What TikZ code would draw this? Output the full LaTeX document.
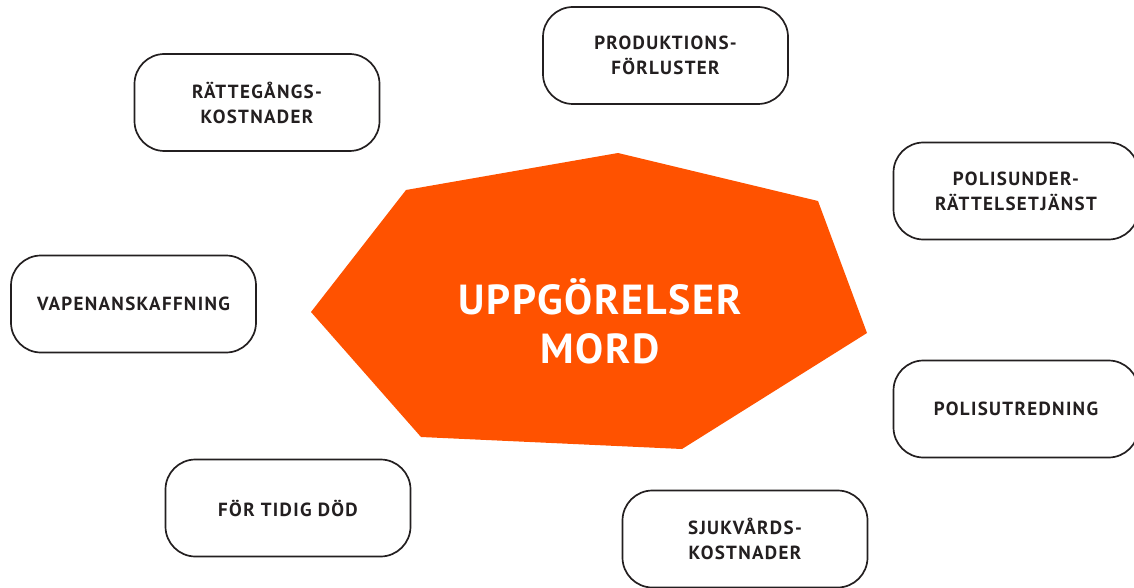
\documentclass[tikz,border=0pt]{standalone}
\usepackage{fontspec}
\setmainfont{PT Sans}
\newfontfamily\boxfont[LetterSpace=7]{PT Sans}
\newfontfamily\mordfont[LetterSpace=4]{PT Sans}
\definecolor{mordorange}{HTML}{FF5200}
\definecolor{boxtext}{HTML}{231F20}
\begin{document}
\begin{tikzpicture}[x=1pt, y=-1pt, line join=round, line cap=round,
		kostnad/.style={draw=boxtext, line width=1.7pt, rounded corners=30pt,
			minimum width=245pt, minimum height=97pt, align=center,
			text=boxtext, font=\boxfont\bfseries\fontsize{19}{25}\selectfont}]
	\useasboundingbox (0,0) rectangle (1134,588);
	% centre shape
	\foreach\n/\x/\y in {a/406/190,b/618/153,c/818/201,d/867/333,e/682/449,f/421/437,g/311/312}
	{\path (\x,\y) coordinate (\n);}
	\fill[mordorange] (a)--(b)--(c)--(d)--(e)--(f)--(g)--cycle;
	\node[text=white, align=center, font=\mordfont\bfseries\fontsize{42}{49}\selectfont] (mord) at (600,321) {UPPGÖRELSER\\MORD};
	% cost boxes
	\node[kostnad] (prod) at (665.5,55.5) {PRODUKTIONS-\\FÖRLUSTER};
	\node[kostnad] (ratt) at (257,102.5) {RÄTTEGÅNGS-\\KOSTNADER};
	\node[kostnad] (polis) at (1016,191) {POLISUNDER-\\RÄTTELSETJÄNST};
	\node[kostnad] (vapen) at (133.5,304) {VAPENANSKAFFNING};
	\node[kostnad] (utred) at (1016,409) {POLISUTREDNING};
	\node[kostnad] (dod) at (288,508) {FÖR TIDIG DÖD};
	\node[kostnad] (sjuk) at (745,539) {SJUKVÅRDS-\\KOSTNADER};
\end{tikzpicture}
\end{document}
